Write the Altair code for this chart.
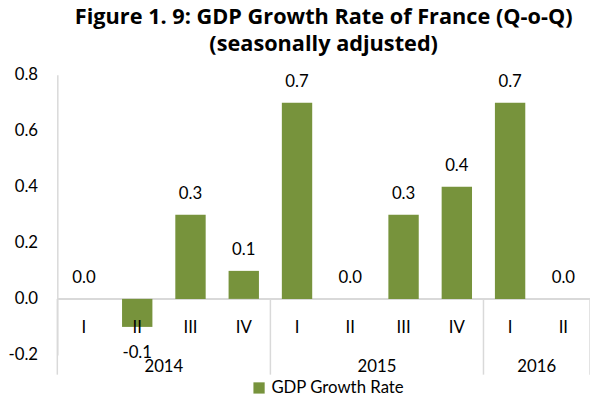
import altair as alt
import pandas as pd

# ---- data ----
quarters = ["I", "II", "III", "IV", "I", "II", "III", "IV", "I", "II"]
years = ["2014", "2014", "2014", "2014", "2015", "2015", "2015", "2015", "2016", "2016"]
growth = [0.0, -0.1, 0.3, 0.1, 0.7, 0.0, 0.3, 0.4, 0.7, 0.0]
y_ticks = [-0.2, 0.0, 0.2, 0.4, 0.6, 0.8]
series_name = "GDP Growth Rate"
title_lines = ["Figure 1. 9: GDP Growth Rate of France (Q-o-Q)", "(seasonally adjusted)"]

FONT = "Lato"
TFONT = "Open Sans"
BAR = "#77933C"
GRID = "#D9D9D9"

n = len(quarters)
idx = list(range(n))
df = pd.DataFrame({
    "idx": idx,
    "x0": [i + 0.215 for i in idx],
    "x1": [i + 0.785 for i in idx],
    "xc": [i + 0.5 for i in idx],
    "quarter": quarters,
    "year": years,
    "value": growth,
    "label": [f"{v:.1f}" for v in growth],
    "zero": [0.0] * n,
    "series": [series_name] * n,
})
df_pos = df[df["value"] >= 0]
df_neg = df[df["value"] < 0]

groups = []
for y in dict.fromkeys(years):
    ids = [i for i, yy in enumerate(years) if yy == y]
    groups.append({"year": y, "mid": (ids[0] + ids[-1] + 1) / 2.0})
gdf = pd.DataFrame(groups)
bvals = [0.0] + [float(i) for i in range(1, n) if years[i] != years[i - 1]] + [float(n)]
bounds = pd.DataFrame({"b": bvals, "zero": [0.0] * len(bvals)})

xscale = alt.Scale(domain=[0, n], nice=False, zero=False)
yscale = alt.Scale(domain=[y_ticks[0], y_ticks[-1]], nice=False)

bars = alt.Chart(df).mark_bar().encode(
    x=alt.X("x0:Q", scale=xscale, axis=None),
    x2="x1:Q",
    y=alt.Y("value:Q", scale=yscale,
            axis=alt.Axis(values=y_ticks, title=None, ticks=False, grid=False,
                          labelExpr="datum.value < 0 ? '-' + format(-datum.value, '.1f') : format(datum.value, '.1f')",
                          domainColor=GRID, domainWidth=1.5, labelPadding=20,
                          labelFontSize=17, labelColor="black", labelFont=FONT)),
    y2="zero:Q",
    color=alt.Color("series:N", scale=alt.Scale(range=[BAR]),
                    legend=alt.Legend(title=None, orient="none", legendX=196, legendY=309,
                                      symbolType="square", symbolSize=130,
                                      labelFontSize=17, labelFont=FONT, labelColor="black")),
)

zero_rule = alt.Chart(bounds).mark_rule(color=GRID, strokeWidth=1.5).encode(
    y=alt.Y("zero:Q", scale=yscale)
)

seps = alt.Chart(bounds).mark_rule(color=GRID, strokeWidth=1.5).encode(
    x=alt.X("b:Q", scale=xscale, axis=None),
    y=alt.Y("zero:Q", scale=yscale),
    y2=alt.value(304),
)

lab_pos = alt.Chart(df_pos).mark_text(dy=-21, fontSize=17, font=FONT, color="black", baseline="middle").encode(
    x=alt.X("xc:Q", scale=xscale, axis=None),
    y=alt.Y("value:Q", scale=yscale),
    text="label:N",
)

lab_neg = alt.Chart(df_neg).mark_text(dy=27, fontSize=17, font=FONT, color="black", baseline="middle").encode(
    x=alt.X("xc:Q", scale=xscale, axis=None),
    y=alt.Y("value:Q", scale=yscale),
    text="label:N",
)

qlabels = alt.Chart(df).mark_text(fontSize=17, font=FONT, color="black", baseline="middle").encode(
    x=alt.X("xc:Q", scale=xscale, axis=None),
    y=alt.value(257),
    text="quarter:N",
)

ylabels = alt.Chart(gdf).mark_text(fontSize=17, font=FONT, color="black", baseline="middle").encode(
    x=alt.X("mid:Q", scale=xscale, axis=None),
    y=alt.value(296),
    text="year:N",
)

chart = alt.layer(zero_rule, seps, bars, lab_pos, lab_neg, qlabels, ylabels).properties(
    width=540, height=284,
    autosize=alt.AutoSizeParams(type="none"),
    padding={"left": 50, "top": 65, "right": 0, "bottom": 42},
    title=alt.Title(title_lines, font=TFONT, fontSize=22, fontWeight="bold", color="black",
                    lineHeight=27, offset=10),
).configure_view(stroke=None)

chart.save("out.html", embed_options={"renderer": "svg", "actions": False})
